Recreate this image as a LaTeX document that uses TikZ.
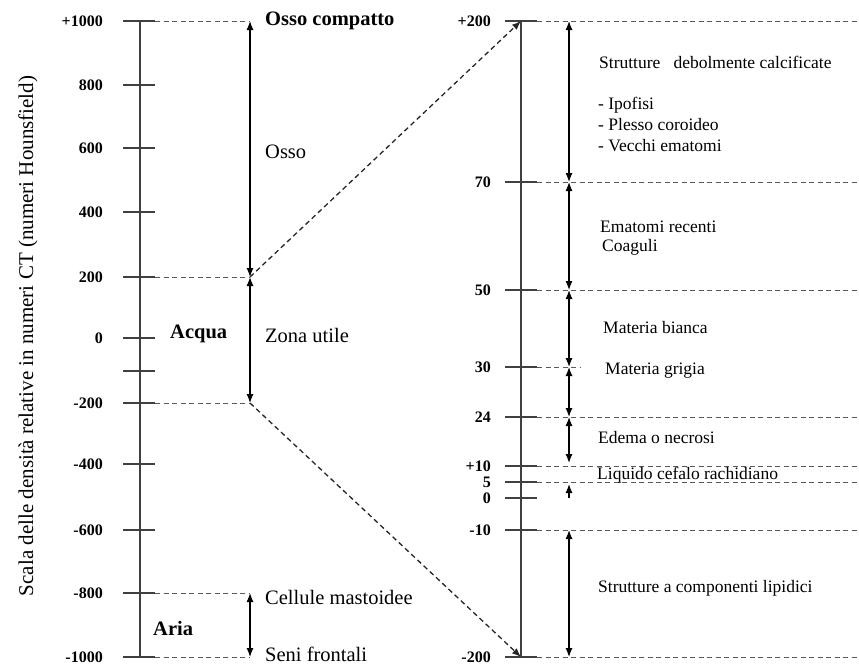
\documentclass[tikz,border=0pt]{standalone}
\usepackage{fontspec}
\setmainfont{Liberation Serif}
\usetikzlibrary{arrows.meta}

\tikzset{
  axisline/.style={draw=black!75, line width=1.3pt},
  tickline/.style={draw=black!75, line width=1.1pt},
  guide/.style={draw=black!65, line width=1pt, dash pattern=on 5pt off 3.5pt},
  zoomline/.style={draw=black!85, line width=1.3pt, dash pattern=on 5pt off 3.5pt},
  span/.style={<->, line width=1.2pt},
  numlbl/.style={anchor=east, inner sep=0pt, font=\bfseries\fontsize{16}{19}\selectfont},
  bigtxt/.style={anchor=west, inner sep=0pt, font=\fontsize{20.5}{24}\selectfont},
  smalltxt/.style={anchor=west, inner sep=0pt, font=\fontsize{17.5}{21}\selectfont}
}

\begin{document}
\begin{tikzpicture}[x=1pt,y=-1pt,>={Latex[length=9pt,width=7pt]}]
\useasboundingbox (0,0) rectangle (859,665);

% left scale (Hounsfield)
\coordinate (Ltop) at (140,21);
\coordinate (Lbot) at (140,657);
\draw[axisline] (Ltop) -- (Lbot);
\foreach \nm/\v/\y in {p1000/+1000/21, 800/800/85, 600/600/148, 400/400/212,
    200/200/277, 0/0/338, m200/-200/403, m400/-400/464, m600/-600/530,
    m800/-800/593, m1000/-1000/657}{
  \draw[tickline] (123,\y) -- (155,\y);
  \node[numlbl] (n\nm) at (103,\y) {\v};
  \coordinate (t\nm) at (155,\y);
  \coordinate (a\nm) at (250,\y);
}
\draw[tickline] (123,371) -- (155,371);
\foreach \nm in {p1000,200,m200,m800,m1000}
  \draw[guide] (t\nm) -- (a\nm);

\draw[span] (a200) -- (ap1000);
\draw[span] (a200) -- (am200);
\draw[span] (am800) -- (am1000);

\node[bigtxt, font=\bfseries\fontsize{20.5}{24}\selectfont] (compatto) at (265,21) {Osso compatto};
\node[bigtxt] (osso) at (265,152) {Osso};
\node[bigtxt] (zona) at (265,335) {Zona utile};
\node[bigtxt, font=\bfseries\fontsize{20.5}{24}\selectfont] (acqua) at (170,334) {Acqua};
\node[bigtxt] (cellule) at (265,597) {Cellule mastoidee};
\node[bigtxt, font=\bfseries\fontsize{20.5}{24}\selectfont] (aria) at (153,628) {Aria};
\node[bigtxt] (seni) at (265,654) {Seni frontali};
\node[rotate=90, inner sep=0pt, font=\fontsize{21}{24}\selectfont] (scala) at (28,336)
  {Scala delle densità relative in numeri CT (numeri Hounsfield)};

% right scale (zoom on the useful zone)
\coordinate (Rtop) at (521,21);
\coordinate (Rbot) at (521,657);
\draw[axisline] (Rtop) -- (Rbot);
\foreach \nm/\v/\y in {p200/+200/21, 70/70/182, 50/50/290, 30/30/367, 24/24/417,
    p10/+10/466, 5/5/482, 0/0/498, m10/-10/530, m200/-200/657}{
  \draw[tickline] (505,\y) -- (537,\y);
  \node[numlbl] (r\nm) at (491,\y) {\v};
  \coordinate (s\nm) at (537,\y);
  \coordinate (b\nm) at (569,\y);
}
\foreach \nm in {p200,70,50,24,p10,5,m10,m200}
  \draw[guide] (s\nm) -- (859,0 |- s\nm);
\draw[guide] (s30) -- (580,367);

\draw[span] (b70) -- (bp200);
\draw[span] (b50) -- (b70);
\draw[span] (b30) -- (b50);
\draw[span] (b24) -- (b30);
\draw[span] (b24) -- (569,463);
\draw[->, line width=1.2pt] (b0) -- (569,484);
\draw[span] (bm10) -- (bm200);

% zoom connectors
\draw[zoomline, ->] (a200) -- (Rtop);
\draw[zoomline, ->] (am200) -- (Rbot);

\node[smalltxt] (calc) at (599,62) {Strutture\ \ \ debolmente calcificate};
\node[smalltxt, align=left] (elenco) at (598,124) {- Ipofisi\\- Plesso coroideo\\- Vecchi ematomi};
\node[smalltxt] (ematomi) at (600,227) {Ematomi recenti};
\node[smalltxt] (coaguli) at (602,247) {Coaguli};
\node[smalltxt] (bianca) at (603,328) {Materia bianca};
\node[smalltxt] (grigia) at (605,371) {Materia grigia};
\node[smalltxt] (edema) at (598,438) {Edema o necrosi};
\node[smalltxt] (liquido) at (597,475) {Liquido cefalo rachidiano};
\node[smalltxt] (lipidi) at (598,588) {Strutture a componenti lipidici};
\end{tikzpicture}
\end{document}
